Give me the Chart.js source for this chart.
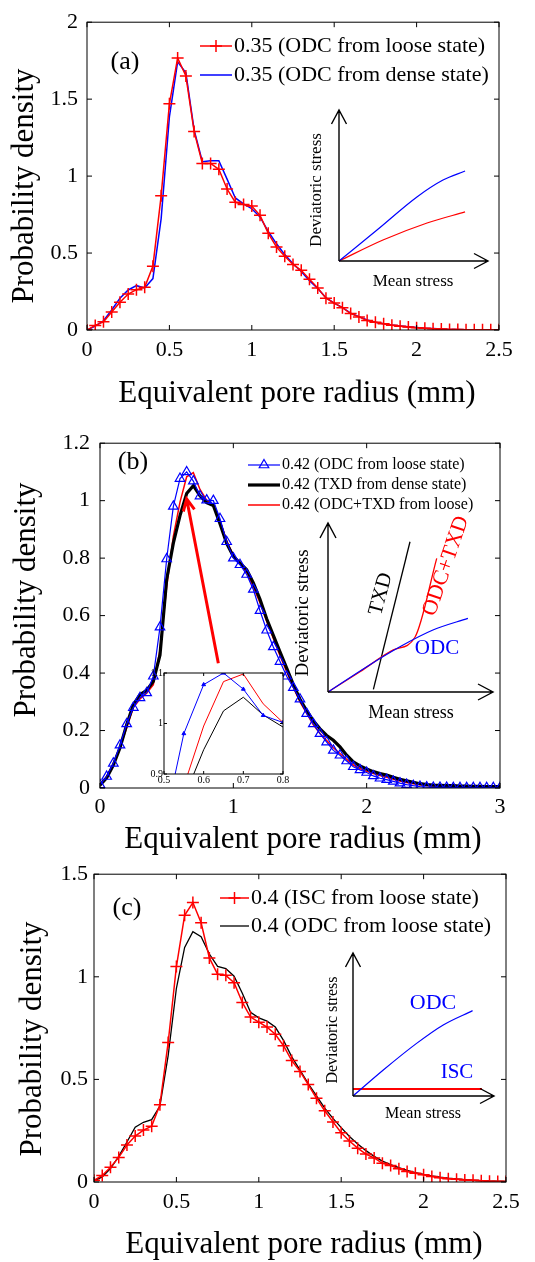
<!DOCTYPE html>
<html>
<head>
<meta charset="utf-8">
<script src="https://cdn.jsdelivr.net/npm/chart.js@4.4.1/dist/chart.umd.min.js"></script>
<style>
  body { margin: 0; background: #fff; width: 535px; height: 1262px; position: relative; overflow: hidden; }
  .box { position: absolute; }
</style>
</head>
<body>
<div class="box" style="left:0;top:0;width:535px;height:415px"><canvas id="ca"></canvas></div>
<div class="box" style="left:0;top:420px;width:535px;height:445px"><canvas id="cb"></canvas></div>
<div class="box" style="left:0;top:855px;width:535px;height:407px"><canvas id="cc"></canvas></div>
<div class="box" style="left:300px;top:100px;width:200px;height:195px"><canvas id="sa"></canvas></div>
<div class="box" style="left:290px;top:470px;width:215px;height:255px"><canvas id="sb"></canvas></div>
<div class="box" style="left:315px;top:940px;width:190px;height:185px"><canvas id="sc"></canvas></div>
<div class="box" style="left:140px;top:665px;width:150px;height:125px"><canvas id="zb"></canvas></div>
<script>
const FONT = '"Liberation Serif", "Times New Roman", serif';

// ---------- panel (a) ----------
const radiusA = [0,0.05,0.1,0.15,0.2,0.25,0.3,0.35,0.4,0.45,0.5,0.55,0.6,0.65,0.7,0.75,0.8,0.85,0.9,0.95,
  1,1.05,1.1,1.15,1.2,1.25,1.3,1.35,1.4,1.45,1.5,1.55,1.6,1.65,1.7,1.75,1.8,1.85,1.9,1.95,
  2,2.05,2.1,2.15,2.2,2.25,2.3,2.35,2.4,2.45,2.5];
const odcLooseA = [0,0.03,0.053,0.117,0.18,0.234,0.262,0.277,0.415,0.873,
  1.47,1.768,1.65,1.29,1.082,1.082,1.044,0.916,0.83,0.815,
  0.805,0.745,0.628,0.539,0.479,0.426,0.388,0.33,0.273,0.207,
  0.175,0.145,0.107,0.085,0.062,0.05,0.04,0.031,0.025,0.02,
  0.015,0.011,0.008,0.006,0.004,0.003,0.002,0.002,0.001,0.001,0.001];
const odcDenseA = [0,0.025,0.06,0.13,0.207,0.26,0.288,0.273,0.334,0.724,
  1.385,1.742,1.672,1.3,1.093,1.1,1.1,0.98,0.858,0.82,
  0.788,0.735,0.64,0.56,0.49,0.43,0.38,0.32,0.27,0.21,
  0.175,0.145,0.11,0.087,0.065,0.05,0.04,0.032,0.026,0.021,
  0.017,0.012,0.009,0.006,0.004,0.003,0.002,0.002,0.001,0.001,0.001];
const xTicksA = [0,0.5,1,1.5,2,2.5];
const yTicksA = [0,0.5,1,1.5,2];

// ---------- panel (b) ----------
const radiusB = [0,0.05,0.1,0.15,0.2,0.25,0.3,0.35,0.4,0.45,0.5,0.55,0.6,0.65,0.7,0.75,0.8,0.85,0.9,0.95,
  1,1.05,1.1,1.15,1.2,1.25,1.3,1.35,1.4,1.45,1.5,1.55,1.6,1.65,1.7,1.75,1.8,1.85,1.9,1.95,
  2,2.05,2.1,2.15,2.2,2.25,2.3,2.35,2.4,2.45,2.5,2.55,2.6,2.65,2.7,2.75,2.8,2.85,2.9,2.95,3];
const odcLooseB = [0.011,0.04,0.086,0.149,0.223,0.28,0.314,0.331,0.389,0.56,
  0.797,0.98,1.077,1.1,1.068,1.016,1.002,1.0,0.937,0.857,
  0.8,0.777,0.743,0.691,0.617,0.549,0.491,0.44,0.389,0.349,
  0.309,0.259,0.223,0.189,0.16,0.131,0.114,0.094,0.074,0.063,
  0.054,0.042,0.034,0.029,0.023,0.017,0.012,0.008,0.005,0.003,
  0.002,0.002,0.002,0.001,0.001,0.001,0.001,0.001,0.001,0.001,0.001];
const txdDenseB = [0.01,0.035,0.08,0.14,0.22,0.29,0.325,0.34,0.371,0.463,
  0.726,0.852,0.948,1.025,1.052,1.017,0.993,0.983,0.92,0.851,
  0.806,0.783,0.76,0.714,0.657,0.589,0.531,0.474,0.417,0.36,
  0.309,0.269,0.234,0.206,0.183,0.166,0.143,0.114,0.091,0.077,
  0.066,0.057,0.05,0.045,0.037,0.03,0.025,0.02,0.015,0.012,
  0.01,0.009,0.008,0.008,0.007,0.007,0.006,0.006,0.005,0.005,0.005];
const odcTxdLooseB = [0.01,0.04,0.085,0.14,0.21,0.28,0.31,0.33,0.36,0.48,
  0.7,0.876,0.995,1.083,1.098,1.039,1.002,0.985,0.93,0.86,
  0.81,0.78,0.75,0.7,0.645,0.58,0.52,0.46,0.405,0.35,
  0.3,0.26,0.22,0.19,0.165,0.14,0.12,0.1,0.08,0.068,
  0.058,0.05,0.043,0.037,0.03,0.024,0.019,0.015,0.011,0.009,
  0.007,0.006,0.006,0.005,0.005,0.005,0.004,0.004,0.004,0.004,0.004];
const xTicksB = [0,1,2,3];
const yTicksB = [0,0.2,0.4,0.6,0.8,1,1.2];
const zoomTicksX = [0.5,0.6,0.7,0.8];
const zoomTicksY = [0.9,1,1.1];

// ---------- panel (c) ----------
const radiusC = radiusA;
const iscLooseC = [0.008,0.032,0.072,0.12,0.18,0.224,0.253,0.272,0.376,0.68,
  1.05,1.3,1.362,1.263,1.092,1.012,1.007,0.971,0.875,0.804,
  0.779,0.755,0.72,0.664,0.592,0.539,0.475,0.408,0.347,0.293,
  0.24,0.2,0.165,0.136,0.117,0.091,0.08,0.064,0.051,0.043,
  0.035,0.027,0.021,0.016,0.013,0.01,0.008,0.006,0.004,0.003,0.002];
const odcLooseC = [0.005,0.025,0.065,0.125,0.195,0.267,0.291,0.304,0.37,0.616,
  0.944,1.143,1.22,1.195,1.111,1.051,1.04,1.003,0.92,0.827,
  0.8,0.784,0.755,0.69,0.61,0.545,0.48,0.42,0.36,0.31,
  0.265,0.222,0.185,0.153,0.125,0.102,0.085,0.07,0.057,0.046,
  0.037,0.03,0.024,0.019,0.015,0.012,0.009,0.007,0.005,0.004,0.003];
const xTicksC = [0,0.5,1,1.5,2,2.5];
const yTicksC = [0,0.5,1,1.5];

// ---------- stress path sketches (arbitrary units) ----------
const sketchA_denseX = [0,0.255,0.523,0.698,0.846];
const sketchA_denseY = [0,0.205,0.424,0.536,0.596];
const sketchA_looseX = [0,0.295,0.591,0.846];
const sketchA_looseY = [0,0.139,0.252,0.325];

const sketchB_odcX = [0,0.235,0.436,0.636,0.848];
const sketchB_odcY = [0,0.150,0.268,0.367,0.436];
const sketchB_odcTxdX = [0,0.194,0.396,0.527,0.659];
const sketchB_odcTxdY = [0,0.120,0.249,0.324,0.791];
const sketchB_txdX = [0.275,0.497];
const sketchB_txdY = [0.016,0.889];

const sketchC_odcX = [0,0.215,0.451,0.640,0.848];
const sketchC_odcY = [0,0.182,0.368,0.497,0.597];
const sketchC_iscX = [0,0.915];
const sketchC_iscY = [0.049,0.049];

const X_TITLE = 'Equivalent pore radius (mm)';
const Y_TITLE = 'Probability density';

function pts(xs, ys) {
  return xs.map((x, i) => ({ x: x, y: ys[i] }));
}

// MATLAB-style tick text: 2 not 2.0
function plainTick(v) {
  return String(Math.round(v * 100) / 100);
}

Chart.defaults.color = '#000';
Chart.defaults.font.family = FONT;

// box, inward ticks, axis titles, tag, legend, arrow (MATLAB look)
function decor(cfg) {
  return {
    id: 'decor',
    beforeDraw(chart) {
      if (!cfg.fill) return;
      const a = chart.chartArea;
      chart.ctx.save();
      chart.ctx.fillStyle = '#fff';
      chart.ctx.fillRect(a.left, a.top, a.right - a.left, a.bottom - a.top);
      chart.ctx.restore();
    },
    afterDatasetsDraw(chart) {
      const ctx = chart.ctx;
      const a = chart.chartArea;
      const x = chart.scales.x, y = chart.scales.y;
      const L = cfg.tickLen || 5;
      ctx.save();
      ctx.strokeStyle = '#000';
      ctx.lineWidth = 1;
      ctx.strokeRect(a.left, a.top, a.right - a.left, a.bottom - a.top);
      ctx.beginPath();
      x.ticks.forEach(t => {
        const p = x.getPixelForValue(t.value);
        ctx.moveTo(p, a.bottom); ctx.lineTo(p, a.bottom - L);
        ctx.moveTo(p, a.top); ctx.lineTo(p, a.top + L);
      });
      y.ticks.forEach(t => {
        const p = y.getPixelForValue(t.value);
        ctx.moveTo(a.left, p); ctx.lineTo(a.left + L, p);
        ctx.moveTo(a.right, p); ctx.lineTo(a.right - L, p);
      });
      ctx.stroke();

      if (cfg.arrow) {
        const x0 = x.getPixelForValue(cfg.arrow.from[0]), y0 = y.getPixelForValue(cfg.arrow.from[1]);
        const x1 = x.getPixelForValue(cfg.arrow.to[0]), y1 = y.getPixelForValue(cfg.arrow.to[1]);
        const ang = Math.atan2(y1 - y0, x1 - x0);
        ctx.strokeStyle = '#ff0000';
        ctx.lineWidth = 3;
        ctx.beginPath();
        ctx.moveTo(x0, y0); ctx.lineTo(x1, y1);
        ctx.moveTo(x1 - 13 * Math.cos(ang - 0.45), y1 - 13 * Math.sin(ang - 0.45));
        ctx.lineTo(x1, y1);
        ctx.lineTo(x1 - 13 * Math.cos(ang + 0.45), y1 - 13 * Math.sin(ang + 0.45));
        ctx.stroke();
      }

      ctx.fillStyle = '#000';
      ctx.textAlign = 'center';
      ctx.textBaseline = 'middle';
      if (cfg.titles) {
        const t = cfg.titles;
        ctx.font = '31px ' + FONT;
        ctx.fillText(X_TITLE, t.xx, t.xy);
        ctx.save();
        ctx.translate(t.yx, t.yy);
        ctx.rotate(-Math.PI / 2);
        ctx.fillText(Y_TITLE, 0, 0);
        ctx.restore();
      }

      if (cfg.tag) {
        ctx.font = '26px ' + FONT;
        ctx.fillText(cfg.tag.text, cfg.tag.x, cfg.tag.y);
      }

      if (cfg.legend) {
        const lg = cfg.legend;
        ctx.font = lg.size + 'px ' + FONT;
        ctx.textAlign = 'left';
        chart.data.datasets.forEach((ds, i) => {
          const ly = lg.y + i * lg.gap;
          ctx.strokeStyle = ds.borderColor;
          ctx.lineWidth = ds.borderWidth;
          ctx.beginPath();
          ctx.moveTo(lg.x, ly); ctx.lineTo(lg.x + lg.len, ly);
          ctx.stroke();
          if (ds.pointRadius > 0 && Chart.helpers && Chart.helpers.drawPoint) {
            ctx.strokeStyle = ds.pointBorderColor;
            ctx.fillStyle = ds.pointBackgroundColor || 'rgba(0,0,0,0)';
            ctx.lineWidth = ds.pointBorderWidth;
            Chart.helpers.drawPoint(ctx, { pointStyle: ds.pointStyle, radius: ds.pointRadius, rotation: 0, borderWidth: ds.pointBorderWidth }, lg.x + lg.len / 2, ly);
          }
          ctx.fillStyle = '#000';
          ctx.fillText(ds.label, lg.x + lg.len + 2, ly);
        });
      }
      ctx.restore();
    }
  };
}

function panel(id, o) {
  return new Chart(document.getElementById(id), {
    type: 'scatter',
    data: { datasets: o.datasets },
    options: {
      responsive: true, maintainAspectRatio: false, animation: false, devicePixelRatio: 1,
      layout: { padding: o.pad },
      plugins: { legend: { display: false }, tooltip: { enabled: false } },
      scales: {
        x: {
          type: 'linear', min: o.xMin, max: o.xMax,
          afterBuildTicks: s => { s.ticks = o.xTicks.map(v => ({ value: v })); },
          ticks: { color: '#000', font: { family: FONT, size: o.tickSize }, padding: o.xTickPad, maxRotation: 0, autoSkip: false, callback: plainTick },
          grid: { display: false, drawTicks: false },
          border: { display: false },
          afterFit: s => { s.height = o.xH; }
        },
        y: {
          type: 'linear', min: o.yMin, max: o.yMax,
          afterBuildTicks: s => { s.ticks = o.yTicks.map(v => ({ value: v })); },
          ticks: { color: '#000', font: { family: FONT, size: o.tickSize }, padding: o.yTickPad, autoSkip: false, callback: plainTick },
          grid: { display: false, drawTicks: false },
          border: { display: false },
          afterFit: s => { s.width = o.yW; }
        }
      }
    },
    plugins: [decor(o.decor)]
  });
}

function line(label, xs, ys, color, width, extra) {
  return Object.assign({
    label: label, data: pts(xs, ys), showLine: true,
    borderColor: color, borderWidth: width, backgroundColor: color,
    pointRadius: 0, pointHoverRadius: 0, pointStyle: 'circle',
    pointBorderColor: color, pointBackgroundColor: color, pointBorderWidth: 1,
    tension: 0
  }, extra || {});
}

const crossRed = { pointStyle: 'cross', pointRadius: 6, pointBorderWidth: 1.5, pointBorderColor: '#ff0000' };

// (a)
panel('ca', {
  datasets: [
    line('0.35 (ODC from loose state)', radiusA, odcLooseA, '#ff0000', 1.5, crossRed),
    line('0.35 (ODC from dense state)', radiusA, odcDenseA, '#0000ff', 1.5)
  ],
  pad: { top: 17, right: 36, left: 0, bottom: 0 },
  xMin: 0, xMax: 2.5, yMin: 0, yMax: 2, xTicks: xTicksA, yTicks: yTicksA,
  tickSize: 22, xTickPad: 7, yTickPad: 9, xH: 85, yW: 87,
  decor: {
    titles: { xx: 297, xy: 394, yx: 25, yy: 186 },
    tag: { text: '(a)', x: 125, y: 62 },
    legend: { x: 200, y: 46, gap: 29, len: 32, size: 22 }
  }
});

// (b)
panel('cb', {
  datasets: [
    line('0.42 (ODC from loose state)', radiusB, odcLooseB, '#0000ff', 1.2,
      { pointStyle: 'triangle', pointRadius: 5.5, pointBorderWidth: 1.2, pointBorderColor: '#0000ff', pointBackgroundColor: 'rgba(0,0,0,0)' }),
    line('0.42 (TXD from dense state)', radiusB, txdDenseB, '#000000', 3.2),
    line('0.42 (ODC+TXD from loose)', radiusB, odcTxdLooseB, '#ff0000', 1.5)
  ],
  pad: { top: 18, right: 35, left: 0, bottom: 0 },
  xMin: 0, xMax: 3, yMin: 0, yMax: 1.2, xTicks: xTicksB, yTicks: yTicksB,
  tickSize: 22, xTickPad: 6, yTickPad: 10, xH: 77, yW: 100,
  decor: {
    titles: { xx: 303, xy: 420, yx: 27, yy: 180 },
    tag: { text: '(b)', x: 133, y: 42 },
    legend: { x: 248, y: 45, gap: 20, len: 32, size: 16 },
    arrow: { from: [0.8875, 0.434], to: [0.65, 1.006] }
  }
});

// (c)
panel('cc', {
  datasets: [
    line('0.4 (ISC from loose state)', radiusC, iscLooseC, '#ff0000', 1.5, crossRed),
    line('0.4 (ODC from loose state)', radiusC, odcLooseC, '#000000', 1.3)
  ],
  pad: { top: 14, right: 29, left: 0, bottom: 0 },
  xMin: 0, xMax: 2.5, yMin: 0, yMax: 1.5, xTicks: xTicksC, yTicks: yTicksC,
  tickSize: 22, xTickPad: 7, yTickPad: 6, xH: 80, yW: 94,
  decor: {
    titles: { xx: 304, xy: 390, yx: 33, yy: 184 },
    tag: { text: '(c)', x: 127, y: 53 },
    legend: { x: 220, y: 43, gap: 28, len: 29, size: 22 }
  }
});

// zoomed inset of (b)
panel('zb', {
  datasets: [
    line('ODC loose', radiusB, odcLooseB, '#0000ff', 1,
      { pointStyle: 'triangle', pointRadius: 2.2, pointBorderWidth: 1, pointBorderColor: '#0000ff', pointBackgroundColor: '#0000ff' }),
    line('TXD dense', radiusB, txdDenseB, '#000000', 1),
    line('ODC+TXD loose', radiusB, odcTxdLooseB, '#ff0000', 1)
  ],
  pad: { top: 8, right: 7, left: 0, bottom: 0 },
  xMin: 0.5, xMax: 0.8, yMin: 0.9, yMax: 1.1, xTicks: zoomTicksX, yTicks: zoomTicksY,
  tickSize: 10, xTickPad: 0, yTickPad: 1, xH: 16, yW: 24,
  decor: { fill: true, tickLen: 3 }
});

// stress path sketches
function sketchDecor(cfg) {
  return {
    id: 'sketch',
    afterDatasetsDraw(chart) {
      const ctx = chart.ctx;
      const x = chart.scales.x, y = chart.scales.y;
      const ox = x.getPixelForValue(0), oy = y.getPixelForValue(0);
      const ex = x.getPixelForValue(1), ty = y.getPixelForValue(1);
      const h = cfg.head, w = cfg.half;
      ctx.save();
      ctx.strokeStyle = '#000';
      ctx.lineWidth = 1.4;
      ctx.beginPath();
      ctx.moveTo(ox, oy); ctx.lineTo(ex, oy);
      ctx.moveTo(ox, oy); ctx.lineTo(ox, ty);
      ctx.moveTo(ex - h, oy - w); ctx.lineTo(ex, oy); ctx.lineTo(ex - h, oy + w);
      ctx.moveTo(ox - w, ty + h); ctx.lineTo(ox, ty); ctx.lineTo(ox + w, ty + h);
      ctx.stroke();
      cfg.labels.forEach(l => {
        ctx.save();
        ctx.translate(l.x, l.y);
        ctx.rotate((l.rot || 0) * Math.PI / 180);
        ctx.font = l.size + 'px ' + FONT;
        ctx.fillStyle = l.color || '#000';
        ctx.textAlign = 'center';
        ctx.textBaseline = 'middle';
        ctx.fillText(l.text, 0, 0);
        ctx.restore();
      });
      ctx.restore();
    }
  };
}

function sketch(id, datasets, pad, cfg) {
  return new Chart(document.getElementById(id), {
    type: 'scatter',
    data: { datasets: datasets },
    options: {
      responsive: true, maintainAspectRatio: false, animation: false, devicePixelRatio: 1,
      layout: { padding: pad },
      plugins: { legend: { display: false }, tooltip: { enabled: false } },
      scales: {
        x: { type: 'linear', min: 0, max: 1, display: false },
        y: { type: 'linear', min: 0, max: 1, display: false }
      }
    },
    plugins: [sketchDecor(cfg)]
  });
}

function curve(xs, ys, color, width) {
  return { data: pts(xs, ys), showLine: true, borderColor: color, borderWidth: width,
    pointRadius: 0, pointHoverRadius: 0, cubicInterpolationMode: 'monotone', clip: false };
}

sketch('sa', [
  curve(sketchA_denseX, sketchA_denseY, '#0000ff', 1.2),
  curve(sketchA_looseX, sketchA_looseY, '#ff0000', 1.2)
], { left: 39, top: 10, right: 12, bottom: 34 }, {
  head: 14, half: 7.5,
  labels: [
    { text: 'Deviatoric stress', x: 17, y: 90, rot: -90, size: 17 },
    { text: 'Mean stress', x: 113, y: 182, size: 17 }
  ]
});

sketch('sb', [
  curve(sketchB_odcX, sketchB_odcY, '#0000ff', 1.2),
  curve(sketchB_odcTxdX, sketchB_odcTxdY, '#ff0000', 1.3),
  curve(sketchB_txdX, sketchB_txdY, '#000000', 1.3)
], { left: 38, top: 53, right: 12, bottom: 33 }, {
  head: 15, half: 8,
  labels: [
    { text: 'Deviatoric stress', x: 13, y: 143, rot: -90, size: 19 },
    { text: 'Mean stress', x: 121, y: 243, size: 18 },
    { text: 'TXD', x: 91, y: 124, rot: -75, size: 21 },
    { text: 'ODC+TXD', x: 156, y: 96, rot: -71, size: 22, color: '#ff0000' },
    { text: 'ODC', x: 147, y: 178, size: 21, color: '#0000ff' }
  ]
});

sketch('sc', [
  curve(sketchC_odcX, sketchC_odcY, '#0000ff', 1.2),
  curve(sketchC_iscX, sketchC_iscY, '#ff0000', 2)
], { left: 38, top: 13, right: 11, bottom: 29 }, {
  head: 14, half: 7.5,
  labels: [
    { text: 'Deviatoric stress', x: 18, y: 90, rot: -90, size: 16 },
    { text: 'Mean stress', x: 108, y: 174, size: 16 },
    { text: 'ODC', x: 118, y: 63, size: 22, color: '#0000ff' },
    { text: 'ISC', x: 142, y: 132, size: 21, color: '#0000ff' }
  ]
});
</script>
</body>
</html>
